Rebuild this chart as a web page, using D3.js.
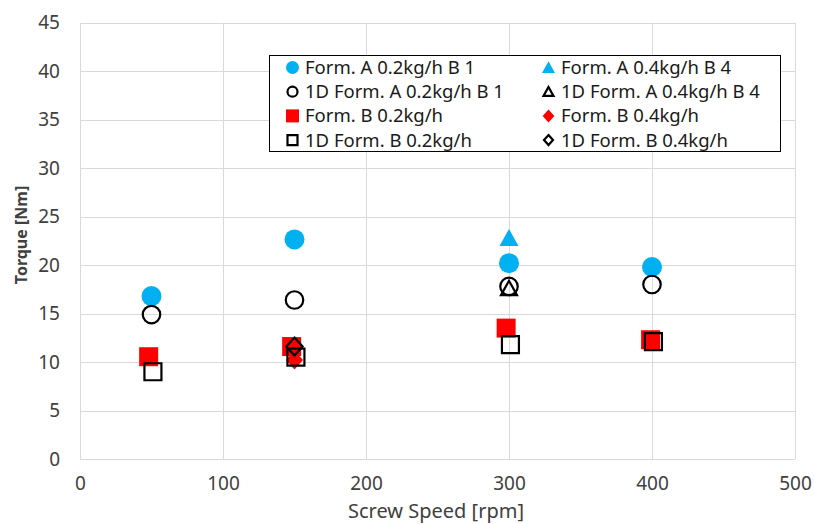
<!DOCTYPE html>
<html>
<head>
<meta charset="utf-8">
<script src="https://cdn.jsdelivr.net/npm/d3@7"></script>
<style>
  html, body { margin: 0; padding: 0; background: #fff; }
  svg { display: block; }
  text { font-family: "Noto Sans", "Open Sans", sans-serif; }
</style>
</head>
<body>
<script>
// Screw speed (rpm) and torque (Nm) per series
const formA02Speed = [50, 150, 300, 400];
const formA02Torque = [16.8, 22.65, 20.2, 19.8];
const formA04Speed = [300];
const formA04Torque = [22.8];
const formA02_1DSpeed = [50, 150, 300, 400];
const formA02_1DTorque = [14.9, 16.4, 17.8, 18.0];
const formA04_1DSpeed = [300];
const formA04_1DTorque = [17.6];
const formB02Speed = [48, 148, 298, 399];
const formB02Torque = [10.55, 11.6, 13.5, 12.3];
const formB04Speed = [150];
const formB04Torque = [10.2];
const formB02_1DSpeed = [51, 151, 301, 401];
const formB02_1DTorque = [9.0, 10.5, 11.8, 12.1];
const formB04_1DSpeed = [150];
const formB04_1DTorque = [11.6];

const seriesNames = [
  "Form. A 0.2kg/h B 1", "Form. A 0.4kg/h B 4",
  "1D Form. A 0.2kg/h B 1", "1D Form. A 0.4kg/h B 4",
  "Form. B 0.2kg/h", "Form. B 0.4kg/h",
  "1D Form. B 0.2kg/h", "1D Form. B 0.4kg/h"
];
const xTicks = [0, 100, 200, 300, 400, 500];
const yTicks = [0, 5, 10, 15, 20, 25, 30, 35, 40, 45];

const BLUE = "#00B0F0", RED = "#FF0000";

const series = [
  { name: seriesNames[0], xs: formA02Speed, ys: formA02Torque, shape: "circle", fill: BLUE },
  { name: seriesNames[1], xs: formA04Speed, ys: formA04Torque, shape: "triangle", fill: BLUE },
  { name: seriesNames[2], xs: formA02_1DSpeed, ys: formA02_1DTorque, shape: "circle", fill: null },
  { name: seriesNames[3], xs: formA04_1DSpeed, ys: formA04_1DTorque, shape: "triangle", fill: null },
  { name: seriesNames[4], xs: formB02Speed, ys: formB02Torque, shape: "square", fill: RED },
  { name: seriesNames[5], xs: formB04Speed, ys: formB04Torque, shape: "diamond", fill: RED },
  { name: seriesNames[6], xs: formB02_1DSpeed, ys: formB02_1DTorque, shape: "square", fill: null },
  { name: seriesNames[7], xs: formB04_1DSpeed, ys: formB04_1DTorque, shape: "diamond", fill: null }
];

const W = 814, H = 524;
const svg = d3.select("body").append("svg").attr("width", W).attr("height", H);

const x = d3.scaleLinear().domain([0, 500]).range([80, 795]);
const y = d3.scaleLinear().domain([0, 45]).range([459, 22.7]);

// gridlines
const grid = svg.append("g");
grid.selectAll("line.h").data(yTicks).join("line")
  .attr("x1", x(0)).attr("x2", x(500))
  .attr("y1", d => Math.round(y(d)) + 0.5).attr("y2", d => Math.round(y(d)) + 0.5)
  .attr("stroke", "#d9d9d9").attr("stroke-width", 1);
grid.selectAll("line.v").data(xTicks).join("line")
  .attr("y1", y(0)).attr("y2", y(45))
  .attr("x1", d => Math.round(x(d)) + 0.5).attr("x2", d => Math.round(x(d)) + 0.5)
  .attr("stroke", "#d9d9d9").attr("stroke-width", 1);

// axes (labels only, lines come from the grid)
const xAxis = svg.append("g").attr("transform", `translate(0,${y(0)})`)
  .call(d3.axisBottom(x).tickValues(xTicks).tickSize(0).tickPadding(18));
const yAxis = svg.append("g").attr("transform", `translate(${x(0)},0)`)
  .call(d3.axisLeft(y).tickValues(yTicks).tickSize(0).tickPadding(20));
[xAxis, yAxis].forEach(a => {
  a.select(".domain").remove();
  a.selectAll("text").attr("font-size", 19).attr("fill", "#404040")
    .attr("font-family", "'Noto Sans', sans-serif");
});

// axis titles
svg.append("text").attr("x", 436).attr("y", 517.5).attr("text-anchor", "middle")
  .attr("font-size", 20).attr("fill", "#404040").text("Screw Speed [rpm]");
svg.append("text").attr("transform", "translate(27,235) rotate(-90)")
  .attr("text-anchor", "middle").attr("font-size", 16).attr("font-weight", "bold")
  .attr("fill", "#404040").text("Torque [Nm]");

// marker path generator, s = nominal marker size
function markerPath(shape, s) {
  const h = s / 2;
  if (shape === "circle") return d3.arc()({ innerRadius: 0, outerRadius: h, startAngle: 0, endAngle: 2 * Math.PI });
  if (shape === "square") return `M${-h},${-h}H${h}V${h}H${-h}Z`;
  if (shape === "diamond") return `M0,${-h}L${h * 0.9},0L0,${h}L${-h * 0.9},0Z`;
  if (shape === "triangle") return `M0,${-h * 0.95}L${h},${h * 0.85}L${-h},${h * 0.85}Z`;
}
function styleMarker(sel, s) {
  sel.attr("fill", s.fill ? s.fill : "none")
    .attr("stroke", s.fill ? "none" : "#000")
    .attr("stroke-width", s.fill ? 0 : 2.2);
}
function sizeFor(s) {
  if (s.shape === "circle") return s.fill ? 20 : 17.5;
  if (s.shape === "square") return s.fill ? 19 : 17;
  if (s.shape === "triangle") return s.fill ? 19 : 16;
  if (s.shape === "diamond") return s.fill ? 19 : 18;
}

// points
const plot = svg.append("g");
series.forEach(s => {
  const pts = s.xs.map((v, i) => [v, s.ys[i]]);
  plot.append("g").selectAll("path").data(pts).join("path")
    .attr("transform", d => `translate(${x(d[0])},${y(d[1])})`)
    .attr("d", markerPath(s.shape, sizeFor(s)))
    .call(styleMarker, s);
});

// legend
const lg = svg.append("g");
lg.append("rect").attr("x", 269.5).attr("y", 55.5).attr("width", 511).attr("height", 96)
  .attr("fill", "#fff").attr("stroke", "#000").attr("stroke-width", 1);
series.forEach((s, i) => {
  const col = i % 2, row = Math.floor(i / 2);
  const mx = col === 0 ? 292.5 : 548.5;
  const my = 67.5 + row * 24.2;
  const ms = 13;
  lg.append("path").attr("transform", `translate(${mx},${my})`)
    .attr("d", markerPath(s.shape, s.fill ? ms : ms - 3))
    .call(styleMarker, s);
  lg.append("text").attr("x", mx + 12.5).attr("y", my + 6.5)
    .attr("font-size", 18.5).attr("fill", "#1a1a1a").text(s.name);
});
</script>
</body>
</html>
